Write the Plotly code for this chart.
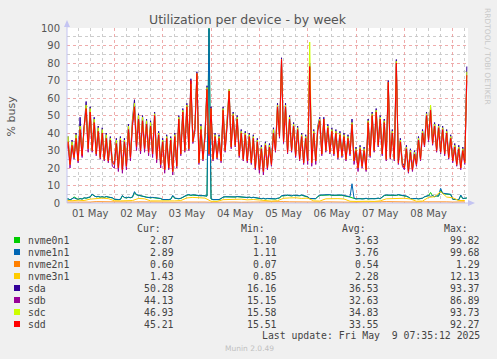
import pandas as pd
import plotly.graph_objects as go

# ---------------- data (hourly from 2025-05-01 00:00) ----------------
start = pd.Timestamp("2025-05-01 00:00")

sdd = [29, 35, 22, 33, 26, 37, 24, 42, 27, 44, 54, 31, 52, 30, 46, 28, 41, 26, 40, 25, 37, 24, 36, 23,
       22, 34, 20, 36, 19, 35, 21, 42, 26, 45, 55, 32, 48, 30, 47, 31, 45, 29, 44, 28, 50, 25, 39, 22,
       35, 19, 37, 20, 36, 18, 38, 21, 48, 28, 52, 30, 55, 31, 70, 35, 42, 74, 23, 42, 25, 38, 65, 28,
       54, 25, 38, 26, 37, 24, 53, 30, 45, 64, 32, 50, 33, 48, 27, 40, 25, 39, 24, 38, 23, 37, 20, 35,
       19, 31, 18, 33, 20, 32, 22, 40, 30, 55, 38, 82, 35, 55, 29, 48, 30, 44, 27, 42, 25, 38, 23, 37,
       24, 78, 23, 40, 24, 42, 47, 28, 48, 30, 43, 29, 41, 28, 40, 26, 39, 27, 38, 25, 37, 28, 45, 24,
       30, 20, 31, 21, 30, 19, 46, 27, 50, 30, 52, 33, 48, 28, 46, 25, 69, 26, 40, 25, 80, 23, 35, 22,
       20, 31, 18, 29, 19, 28, 22, 36, 25, 40, 33, 50, 36, 53, 34, 44, 30, 43, 29, 42, 28, 40, 26, 37,
       24, 32, 22, 31, 20, 30, 23, 73]

sda = [30, 38, 23, 36, 27, 40, 25, 49, 28, 46, 58, 32, 55, 31, 49, 29, 44, 27, 43, 26, 40, 25, 38, 24,
       23, 37, 21, 38, 20, 37, 22, 45, 27, 48, 59, 33, 51, 31, 50, 32, 48, 30, 47, 29, 52, 26, 41, 23,
       37, 20, 39, 21, 38, 19, 40, 22, 50, 29, 54, 31, 57, 32, 71, 36, 44, 75, 24, 45, 26, 40, 67, 29,
       55, 26, 40, 27, 39, 25, 55, 31, 47, 65, 33, 52, 34, 50, 28, 42, 26, 41, 25, 40, 24, 39, 21, 37,
       20, 33, 19, 35, 21, 34, 23, 43, 31, 57, 39, 83, 36, 57, 30, 50, 31, 46, 28, 44, 26, 40, 24, 39,
       25, 80, 24, 42, 25, 44, 49, 29, 49, 31, 45, 30, 43, 29, 42, 27, 41, 28, 40, 26, 39, 29, 48, 25,
       32, 21, 33, 22, 32, 20, 48, 28, 52, 31, 54, 34, 50, 29, 48, 26, 70, 27, 42, 26, 82, 24, 37, 23,
       21, 33, 19, 31, 20, 30, 23, 38, 26, 42, 34, 52, 37, 55, 35, 46, 31, 45, 30, 44, 29, 42, 27, 39,
       25, 34, 23, 33, 21, 32, 24, 78]

sdc = [30, 38, 22, 35, 26, 39, 24, 44, 28, 45, 56, 31, 54, 30, 48, 28, 43, 26, 42, 25, 39, 24, 37, 23,
       22, 36, 20, 37, 19, 36, 21, 44, 26, 47, 57, 32, 50, 30, 49, 31, 47, 29, 46, 28, 51, 25, 40, 22,
       36, 19, 38, 20, 37, 18, 39, 21, 49, 28, 53, 30, 56, 31, 68, 35, 43, 74, 23, 44, 25, 39, 66, 28,
       54, 25, 39, 26, 38, 24, 54, 30, 46, 65, 32, 51, 33, 49, 27, 41, 25, 40, 24, 39, 23, 38, 20, 36,
       19, 32, 18, 34, 20, 33, 22, 42, 30, 56, 38, 82, 35, 56, 29, 49, 30, 45, 27, 43, 25, 39, 23, 38,
       24, 92, 23, 41, 24, 43, 48, 28, 48, 30, 44, 29, 42, 28, 41, 26, 40, 27, 39, 25, 38, 28, 46, 24,
       31, 20, 32, 21, 31, 19, 47, 27, 51, 30, 53, 33, 49, 28, 47, 25, 69, 26, 41, 25, 81, 23, 36, 22,
       20, 32, 18, 30, 19, 29, 22, 37, 25, 41, 33, 51, 36, 56, 34, 45, 30, 44, 29, 43, 28, 41, 26, 38,
       24, 33, 22, 32, 20, 31, 23, 75]

sdb = [28, 34, 20, 32, 25, 36, 23, 41, 26, 43, 52, 29, 51, 29, 45, 27, 40, 25, 39, 24, 36, 23, 35, 21,
       20, 33, 18, 35, 17, 34, 19, 41, 24, 44, 53, 30, 47, 28, 46, 29, 44, 27, 43, 26, 49, 23, 38, 20,
       34, 17, 36, 19, 35, 16, 37, 20, 47, 27, 51, 29, 54, 30, 67, 34, 41, 72, 22, 41, 24, 37, 63, 27,
       52, 24, 37, 25, 36, 23, 51, 29, 44, 62, 31, 49, 32, 47, 26, 39, 24, 38, 23, 37, 22, 36, 19, 34,
       17, 30, 16, 32, 19, 31, 21, 39, 29, 53, 37, 80, 34, 53, 28, 47, 29, 43, 26, 41, 24, 37, 22, 36,
       22, 77, 21, 39, 22, 41, 46, 27, 46, 29, 42, 28, 40, 27, 39, 25, 38, 26, 37, 24, 36, 27, 44, 22,
       29, 18, 30, 20, 29, 18, 45, 26, 49, 29, 50, 32, 46, 27, 45, 24, 67, 25, 39, 24, 78, 22, 34, 21,
       19, 30, 17, 28, 18, 27, 21, 35, 24, 39, 32, 49, 35, 51, 33, 43, 29, 42, 28, 41, 27, 39, 25, 36,
       23, 31, 21, 30, 19, 29, 22, 70]

nvme1n1 = [2.0, 2.5, 1.8, 2.2, 3.0, 2.4, 2.0, 2.6, 2.2, 3.0, 2.8, 3.2, 3.5, 5.2, 4.0, 3.6, 3.8, 3.4, 3.6, 3.3, 3.7, 3.4, 3.2, 3.0,
           2.2, 1.9, 2.0, 2.1, 4.3, 3.2, 3.0, 3.3, 3.1, 3.4, 6.5, 4.8, 4.5, 4.6, 4.2, 3.6, 3.2, 3.3, 3.0, 3.2, 3.1, 2.9, 3.0, 2.6,
           2.0, 1.9, 2.1, 2.0, 2.2, 4.4, 2.8, 2.6, 2.5, 2.7, 3.4, 4.2, 4.6, 4.8, 4.5, 4.7, 4.4, 4.5, 4.3, 4.2, 4.4, 4.1, 4.0, 99.68,
           2.4, 2.0, 1.9, 2.1, 2.0, 2.6, 3.4, 3.6, 3.5, 3.8, 3.6, 3.4, 3.5, 3.7, 3.6, 3.3, 3.4, 3.5, 3.2, 3.4, 3.1, 3.3, 3.0, 2.8,
           2.6, 2.5, 2.7, 2.4, 2.6, 2.5, 2.8, 2.6, 2.4, 2.7, 2.9, 4.2, 4.5, 4.4, 4.6, 4.3, 4.2, 4.5, 4.4, 4.1, 4.3, 4.6, 4.2, 4.0,
           3.6, 2.6, 2.5, 2.7, 2.5, 3.8, 4.5, 4.6, 4.7, 4.4, 4.6, 4.8, 4.5, 4.6, 4.7, 4.4, 4.5, 4.6, 4.3, 4.2, 4.0, 3.6, 11.0, 2.8,
           2.4, 2.6, 2.5, 2.3, 2.5, 2.7, 2.4, 2.6, 2.5, 2.4, 2.6, 2.8, 2.5, 3.4, 4.4, 4.6, 4.5, 4.7, 4.6, 4.4, 4.5, 4.8, 4.6, 4.5,
           4.4, 4.0, 3.4, 2.6, 2.5, 2.7, 2.6, 2.4, 2.6, 2.8, 3.6, 4.0, 4.3, 3.8, 4.2, 3.7, 4.1, 4.0, 8.4, 5.6, 5.4, 5.6, 5.3, 5.0,
           2.2, 2.0, 2.1, 1.9, 4.6, 2.6, 2.7, 2.89]

nvme0n1 = [2.2, 2.3, 1.9, 2.4, 3.5, 2.6, 2.1, 2.5, 2.3, 2.9, 2.7, 3.0, 3.4, 4.8, 3.9, 3.5, 3.6, 3.3, 3.5, 3.2, 3.6, 3.3, 3.1, 2.9,
           2.1, 1.8, 1.9, 2.0, 4.0, 3.1, 2.9, 3.2, 3.0, 3.3, 6.0, 4.6, 4.3, 4.4, 4.0, 3.5, 3.1, 3.2, 2.9, 3.1, 3.0, 2.8, 2.9, 2.5,
           1.9, 1.8, 2.0, 1.9, 2.1, 4.0, 2.7, 2.5, 2.4, 2.6, 3.3, 4.0, 4.4, 4.6, 4.3, 4.5, 4.3, 4.4, 4.2, 4.1, 4.3, 4.0, 3.9, 99.82,
           2.3, 1.9, 1.8, 2.0, 1.9, 2.5, 3.3, 3.5, 3.4, 3.6, 3.5, 3.3, 3.4, 3.6, 3.5, 3.2, 3.3, 3.4, 3.1, 3.3, 3.0, 3.2, 2.9, 2.7,
           2.5, 2.4, 2.6, 2.3, 2.5, 2.4, 2.7, 2.5, 2.3, 2.6, 2.8, 4.0, 4.3, 4.2, 4.4, 4.1, 4.0, 4.3, 4.2, 3.9, 4.1, 4.4, 4.0, 3.8,
           3.4, 2.5, 2.4, 2.6, 2.4, 3.6, 4.3, 4.4, 4.5, 4.2, 4.4, 4.6, 4.3, 4.4, 4.5, 4.2, 4.3, 4.4, 4.1, 4.0, 3.8, 3.4, 3.0, 2.7,
           2.3, 2.5, 2.4, 2.2, 2.4, 2.6, 2.3, 2.5, 2.4, 2.3, 2.5, 2.7, 2.4, 3.3, 4.2, 4.4, 4.3, 4.5, 4.4, 4.2, 4.3, 4.6, 4.4, 4.3,
           4.2, 3.8, 3.3, 2.5, 2.4, 2.6, 2.5, 2.3, 2.5, 2.7, 3.5, 3.9, 4.2, 6.0, 4.1, 3.6, 4.0, 3.9, 7.5, 5.4, 5.2, 5.4, 5.1, 4.8,
           2.1, 1.9, 2.0, 1.8, 4.2, 2.5, 2.6, 2.87]

# 3-hourly series
nvme3n1 = [1.5, 1.3, 1.6, 1.4, 2.2, 2.6, 2.8, 2.5, 1.3, 1.2, 1.1, 1.4, 2.6, 2.4,
           1.2, 1.1, 1.3, 1.0, 1.2, 1.4, 2.9, 3.2, 3.0, 2.8, 1.0, 0.9,
           1.9, 2.1, 2.0, 2.2, 1.8, 2.0, 1.7, 1.2, 1.1, 1.3, 2.7, 2.9, 3.0, 2.6, 2.8,
           1.2, 1.1, 2.4, 2.6, 2.5, 2.3, 1.0, 0.9, 1.1, 1.0, 0.9, 1.2,
           2.4, 2.6, 2.5, 2.7, 2.3, 1.0, 1.1, 3.2, 3.6, 6.5, 3.4, 3.0, 1.4, 1.43]

nvme2n1 = [0.5, 0.4, 0.6, 0.5, 0.5, 0.7, 0.6, 0.5, 0.4, 0.5, 0.3, 0.5, 0.6, 0.5, 0.4, 0.5, 0.6,
           0.5, 0.4, 0.5, 0.6, 0.7, 0.6, 0.5, 0.4, 0.5, 0.5, 0.6, 0.5, 0.4, 0.5, 0.6, 0.5, 0.4,
           0.5, 0.6, 0.7, 0.6, 0.5, 0.6, 0.5, 0.4, 0.5, 0.6, 0.5, 0.5, 0.4, 0.3, 0.4, 0.5, 0.4,
           0.5, 0.6, 0.7, 0.6, 0.5, 0.6, 0.4, 0.5, 0.6, 0.7, 0.6, 0.5, 0.6, 0.5, 0.5, 0.6]

names = ["nvme0n1", "nvme1n1", "nvme2n1", "nvme3n1", "sda", "sdb", "sdc", "sdd"]
colors = ["#00CC00", "#0066B3", "#FF8000", "#FFCC00", "#330099", "#990099", "#CCFF00", "#FF0000"]
cur = ["2.87", "2.89", "0.60", "1.43", "50.28", "44.13", "46.93", "45.21"]
mins = ["1.10", "1.11", "0.07", "0.85", "16.16", "15.15", "15.58", "15.51"]
avgs = ["3.63", "3.76", "0.54", "2.28", "36.53", "32.63", "34.83", "33.55"]
maxs = ["99.82", "99.68", "1.29", "12.13", "93.37", "86.89", "93.73", "92.27"]

series = [nvme0n1, nvme1n1, nvme2n1, nvme3n1, sda, sdb, sdc, sdd]
steps_h = [1, 1, 3, 3, 1, 1, 1, 1]

# ---------------- figure ----------------
W, H = 497, 359
L, R, T, B = 67, 468, 28, 203


def px(x):
    return (x - L) / (R - L)


def py(y):
    return (B - y) / (B - T)


fig = go.Figure()
for name, vals, col, st in zip(names, series, colors, steps_h):
    xs = [start + pd.Timedelta(hours=st * i) for i in range(len(vals))]
    fig.add_trace(go.Scatter(x=xs, y=vals, mode="lines", name=name,
                             line=dict(color=col, width=1), hoverinfo="skip"))

font_main = "DejaVu Sans"
font_mono = "DejaVu Sans Mono"
txt = "#555555"
major = "rgba(235,150,150,0.8)"
minor = "rgba(200,200,200,0.9)"

fig.update_layout(
    width=W, height=H, autosize=False,
    margin=dict(l=L, r=W - R, t=T, b=H - B, pad=0),
    paper_bgcolor="#F0F0F0", plot_bgcolor="#FFFFFF",
    showlegend=False,
    font=dict(family=font_main, size=10, color=txt),
)
fig.update_xaxes(
    type="date",
    range=[pd.Timestamp("2025-05-01 00:30"), pd.Timestamp("2025-05-09 07:35")],
    tick0="2025-05-01", dtick=86400000, ticklabelmode="period", tickformat="%d %b",
    showgrid=True, gridcolor=major, griddash="dot", gridwidth=1,
    minor=dict(dtick=6 * 3600 * 1000, showgrid=True, gridcolor=minor, griddash="dot", gridwidth=1),
    ticks="", zeroline=False, showline=False, ticklabelstandoff=3,
    tickfont=dict(family=font_main, size=10, color=txt),
)
fig.update_yaxes(
    range=[0, 100], dtick=10, tick0=0,
    showgrid=True, gridcolor=major, griddash="dot", gridwidth=1,
    minor=dict(dtick=5, showgrid=True, gridcolor=minor, griddash="dot", gridwidth=1),
    ticks="", zeroline=False, showline=False, ticklabelstandoff=6,
    tickfont=dict(family=font_main, size=10, color=txt),
)

axis_col = "#C4C4F2"
shapes = [
    dict(type="line", xref="paper", yref="paper", x0=0, x1=px(470), y0=0, y1=0,
         line=dict(color=axis_col, width=1)),
    dict(type="line", xref="paper", yref="paper", x0=0, x1=0, y0=0, y1=py(23),
         line=dict(color=axis_col, width=1)),
    dict(type="path", xref="paper", yref="paper",
         path=f"M {px(64)},{py(27)} L {px(70)},{py(27)} L {px(67)},{py(20)} Z",
         fillcolor=axis_col, line=dict(color=axis_col, width=0)),
    dict(type="path", xref="paper", yref="paper",
         path=f"M {px(468)},{py(200)} L {px(468)},{py(206)} L {px(475)},{py(203)} Z",
         fillcolor=axis_col, line=dict(color=axis_col, width=0)),
]

ann = [
    dict(text="Utilization per device - by week", x=px(248), y=py(19), xref="paper", yref="paper",
         showarrow=False, font=dict(family=font_main, size=12.5, color=txt),
         xanchor="center", yanchor="middle"),
    dict(text="% busy", x=px(10.5), y=py(116), xref="paper", yref="paper", showarrow=False,
         textangle=-90, font=dict(family=font_main, size=11, color=txt),
         xanchor="center", yanchor="middle"),
    dict(text="RRDTOOL / TOBI OETIKER", x=px(488), y=py(56), xref="paper", yref="paper",
         showarrow=False, textangle=90, font=dict(family=font_main, size=7.5, color="#C8C8C8"),
         xanchor="center", yanchor="middle"),
    dict(text="Munin 2.0.49", x=px(249), y=py(348), xref="paper", yref="paper", showarrow=False,
         font=dict(family=font_main, size=7.5, color="#C0C0C0"), xanchor="center", yanchor="middle"),
]

legfont = dict(family=font_mono, size=9.8, color="#444444")
for hdr, xr in zip(["Cur:", "Min:", "Avg:", "Max:"], [163, 267, 368, 470]):
    ann.append(dict(text=hdr, x=px(xr), y=py(228.5), xref="paper", yref="paper", showarrow=False,
                    font=legfont, xanchor="right", yanchor="middle"))

for i, (nm, col) in enumerate(zip(names, colors)):
    yy = 240 + 12 * i
    shapes.append(dict(type="rect", xref="paper", yref="paper",
                       x0=px(14), x1=px(20), y0=py(yy - 3), y1=py(yy + 3),
                       fillcolor=col, line=dict(width=0)))
    ann.append(dict(text=nm, x=px(26), y=py(yy), xref="paper", yref="paper", showarrow=False,
                    font=legfont, xanchor="left", yanchor="middle"))
    for vals, xr in zip([cur, mins, avgs, maxs], [176, 279, 381, 482]):
        ann.append(dict(text=vals[i], x=px(xr), y=py(yy), xref="paper", yref="paper",
                        showarrow=False, font=legfont, xanchor="right", yanchor="middle"))

ann.append(dict(text="Last update: Fri May&nbsp; 9 07:35:12 2025",
                x=px(482), y=py(335.5), xref="paper", yref="paper", showarrow=False,
                font=legfont, xanchor="right", yanchor="middle"))

fig.update_layout(shapes=shapes, annotations=ann)
fig.write_html("out.html", config={"displayModeBar": False},
               post_script="document.body.style.margin='0px';document.body.style.padding='0px';")
